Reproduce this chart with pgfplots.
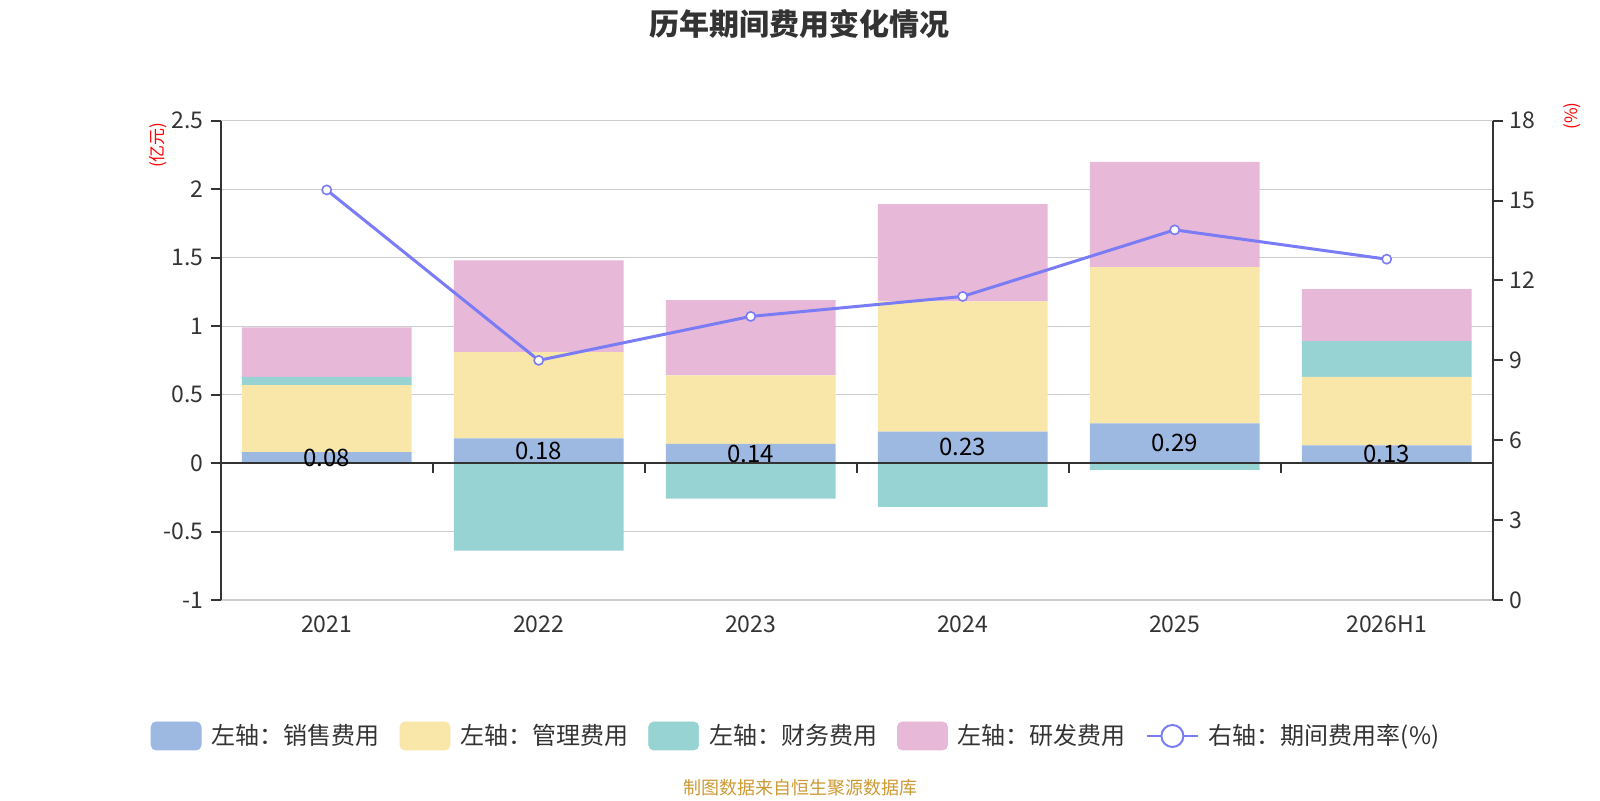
\documentclass[border=0pt]{standalone}
\usepackage{fontspec}
\setmainfont{Noto Sans CJK SC}
\usepackage{pgfplots}
\usepackage{pgfplotstable}
\pgfplotsset{compat=1.18}
\definecolor{salesc}{RGB}{157,184,225}
\definecolor{adminc}{RGB}{248,231,169}
\definecolor{finc}{RGB}{152,211,212}
\definecolor{rdc}{RGB}{231,184,216}
\definecolor{linec}{RGB}{122,124,245}
\definecolor{gridc}{RGB}{204,204,204}
\definecolor{axisc}{RGB}{51,51,51}
\definecolor{srcc}{RGB}{204,153,51}
\pgfplotsset{base/.style={scale only axis, width=636pt, height=239.65pt,
  at={(110.35pt,100pt)}, anchor=south west,
  xmin=-0.5, xmax=5.5, ymin=-1, ymax=2.5,
  /pgf/number format/assume math mode=true,
  tick label style={font=\fontsize{11.5}{13}\selectfont, text=axisc}}}
\pgfplotstableread{
x y
0 0.08
1 0.18
2 0.14
3 0.23
4 0.29
5 0.13
}\salestab
\begin{document}
\begin{tikzpicture}
\path[use as bounding box] (0,0) rectangle (800pt,400pt);
% main left axis with stacked positive bars
\begin{axis}[base,
  ybar stacked, bar width=0.8,
  axis y line*=left, axis x line*=bottom,
  x axis line style={draw=none},
  y axis line style={draw=axisc, line width=1pt, -},
  xtick={0,1,2,3,4,5}, xticklabels={2021,2022,2023,2024,2025,2026H1},
  x tick style={draw=none},
  xticklabel style={anchor=center, yshift=-12.25pt},
  ytick={-1,-0.5,0,0.5,1,1.5,2,2.5},
  yticklabels={-1,-0.5,0,0.5,1,1.5,2,2.5},
  y tick style={draw=axisc, line width=1pt},
  ytick align=outside, major tick length=5pt,
  ymajorgrids, grid style={gridc, line width=0.6pt},
  ]
\addplot[fill=salesc, draw=none] table[x=x, y=y] {\salestab};
\addplot[fill=adminc, draw=none] coordinates {(0,0.49) (1,0.63) (2,0.50) (3,0.95) (4,1.14) (5,0.50)};
\addplot[fill=finc, draw=none] coordinates {(0,0.06) (1,0) (2,0) (3,0) (4,0) (5,0.26)};
\addplot[fill=rdc, draw=none] coordinates {(0,0.36) (1,0.67) (2,0.55) (3,0.71) (4,0.77) (5,0.38)};
\end{axis}
% labels, negative finance bars + zero line
\begin{axis}[base, ybar, bar width=0.8, axis on top,
  axis x line=middle, axis y line=none,
  x axis line style={draw=axisc, line width=1pt, -},
  xtick={0.5,1.5,2.5,3.5,4.5}, xticklabels={},
  x tick style={draw=axisc, line width=1pt},
  xtick align=outside, major tick length=5pt]
\addplot[draw=none, fill=none, bar shift=0pt,
  point meta=explicit,
  nodes near coords={\pgfmathprintnumber[fixed,precision=2,fixed zerofill]{\pgfplotspointmeta}},
  every node near coord/.append style={font=\fontsize{12}{14}\selectfont, text=black, anchor=center}]
  table[x=x, y expr=\thisrow{y}/2, meta=y] {\salestab};
\addplot[fill=finc, draw=none, bar shift=0pt] coordinates {(1,-0.64) (2,-0.26) (3,-0.32) (4,-0.05)};
\end{axis}
% right axis with line
\begin{axis}[base, ymin=0, ymax=18,
  axis y line*=right, axis x line=none,
  ytick={0,3,6,9,12,15,18},
  y axis line style={draw=axisc, line width=1pt, -},
  y tick style={draw=axisc, line width=1pt},
  ytick align=outside, major tick length=5pt,
  legend columns=5,
  legend style={at={(-0.05503,-0.2837)}, anchor=west, draw=none, fill=none,
    inner sep=0pt, outer sep=0pt,
    font=\fontsize{12}{14}\selectfont, text=axisc,
    /tikz/every odd column/.append style={column sep=3pt},
    /tikz/every even column/.append style={column sep=8pt}},
  legend cell align=left,
  ]
\addlegendimage{legend image code/.code={\fill[salesc, rounded corners=2.5pt] (0pt,-7pt) rectangle (25pt,7pt);}}
\addlegendentry{左轴：销售费用}
\addlegendimage{legend image code/.code={\fill[adminc, rounded corners=2.5pt] (0pt,-7pt) rectangle (25pt,7pt);}}
\addlegendentry{左轴：管理费用}
\addlegendimage{legend image code/.code={\fill[finc, rounded corners=2.5pt] (0pt,-7pt) rectangle (25pt,7pt);}}
\addlegendentry{左轴：财务费用}
\addlegendimage{legend image code/.code={\fill[rdc, rounded corners=2.5pt] (0pt,-7pt) rectangle (25pt,7pt);}}
\addlegendentry{左轴：研发费用}
\addplot[linec, line width=1.5pt, mark=*, mark size=2.3pt,
  mark options={fill=white, draw=linec, line width=0.8pt},
  legend image code/.code={\draw[linec, line width=1pt] (0pt,0pt) -- (25.5pt,0pt); \draw[linec, line width=1pt, fill=white] (12.75pt,0pt) circle (5.5pt);}]
  coordinates {(0,15.4) (1,9.0) (2,10.65) (3,11.4) (4,13.9) (5,12.8)};
\addlegendentry{右轴：期间费用率(\%)}
\end{axis}
\node[font=\bfseries\fontsize{15}{18}\selectfont, text=axisc] at (399.5pt,388.25pt) {历年期间费用变化情况};
\node[rotate=90, text=red, font=\fontsize{8.5}{10}\selectfont] at (79pt,327.5pt) {(亿元)};
\node[rotate=90, text=red, font=\fontsize{8.5}{10}\selectfont] at (786pt,342pt) {(\%)};
\node[text=srcc, font=\fontsize{9}{11}\selectfont] at (400pt,6pt) {制图数据来自恒生聚源数据库};
\end{tikzpicture}
\end{document}
